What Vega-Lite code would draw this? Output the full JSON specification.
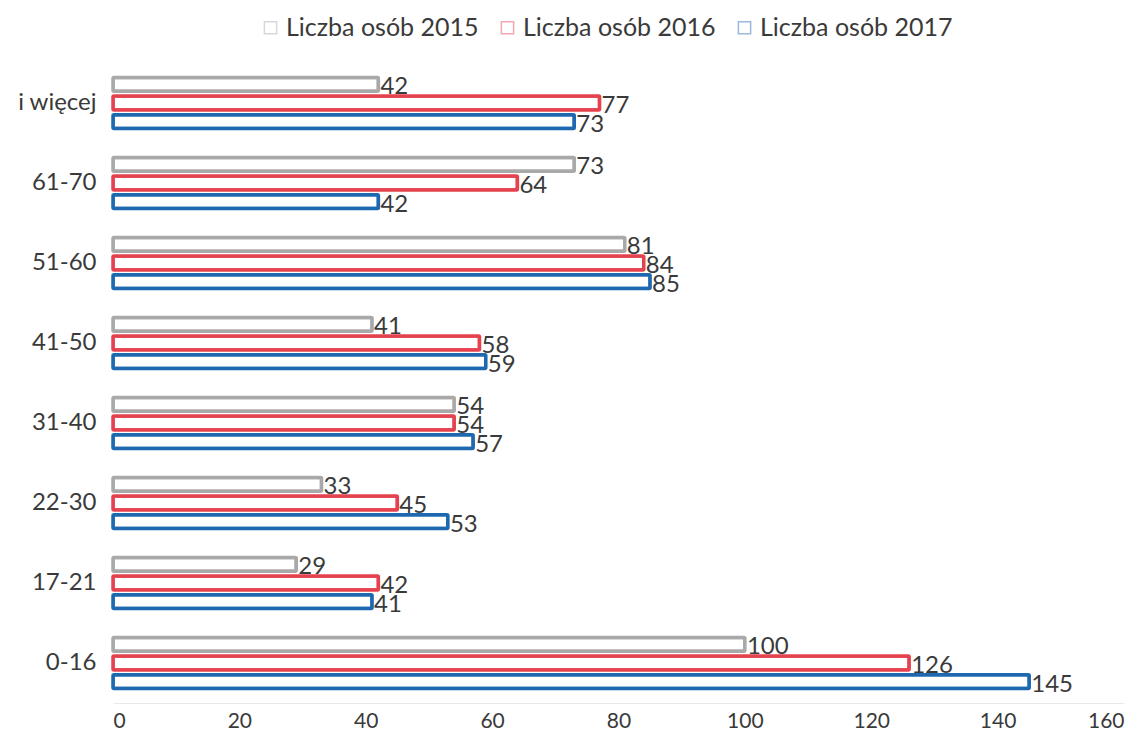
{
  "$schema": "https://vega.github.io/schema/vega-lite/v6.json",
  "autosize": {"type": "none"},
  "width": 1011,
  "height": 640,
  "padding": {"left": 113, "top": 63, "right": 19, "bottom": 35},
  "background": "white",
  "config": {"view": {"stroke": null}, "font": "Lato"},
  "data": {
    "values": [
      {"grupa": "i więcej", "seria": "Liczba osób 2015", "wartosc": 42},
      {"grupa": "i więcej", "seria": "Liczba osób 2016", "wartosc": 77},
      {"grupa": "i więcej", "seria": "Liczba osób 2017", "wartosc": 73},
      {"grupa": "61-70", "seria": "Liczba osób 2015", "wartosc": 73},
      {"grupa": "61-70", "seria": "Liczba osób 2016", "wartosc": 64},
      {"grupa": "61-70", "seria": "Liczba osób 2017", "wartosc": 42},
      {"grupa": "51-60", "seria": "Liczba osób 2015", "wartosc": 81},
      {"grupa": "51-60", "seria": "Liczba osób 2016", "wartosc": 84},
      {"grupa": "51-60", "seria": "Liczba osób 2017", "wartosc": 85},
      {"grupa": "41-50", "seria": "Liczba osób 2015", "wartosc": 41},
      {"grupa": "41-50", "seria": "Liczba osób 2016", "wartosc": 58},
      {"grupa": "41-50", "seria": "Liczba osób 2017", "wartosc": 59},
      {"grupa": "31-40", "seria": "Liczba osób 2015", "wartosc": 54},
      {"grupa": "31-40", "seria": "Liczba osób 2016", "wartosc": 54},
      {"grupa": "31-40", "seria": "Liczba osób 2017", "wartosc": 57},
      {"grupa": "22-30", "seria": "Liczba osób 2015", "wartosc": 33},
      {"grupa": "22-30", "seria": "Liczba osób 2016", "wartosc": 45},
      {"grupa": "22-30", "seria": "Liczba osób 2017", "wartosc": 53},
      {"grupa": "17-21", "seria": "Liczba osób 2015", "wartosc": 29},
      {"grupa": "17-21", "seria": "Liczba osób 2016", "wartosc": 42},
      {"grupa": "17-21", "seria": "Liczba osób 2017", "wartosc": 41},
      {"grupa": "0-16", "seria": "Liczba osób 2015", "wartosc": 100},
      {"grupa": "0-16", "seria": "Liczba osób 2016", "wartosc": 126},
      {"grupa": "0-16", "seria": "Liczba osób 2017", "wartosc": 145}
    ]
  },
  "encoding": {
    "y": {
      "field": "grupa", "type": "nominal",
      "sort": ["i więcej", "61-70", "51-60", "41-50", "31-40", "22-30", "17-21", "0-16"],
      "scale": {"paddingInner": 0.36, "paddingOuter": 0.18},
      "axis": {"title": null, "domain": false, "ticks": false, "labelFontSize": 24, "labelColor": "#3a3a3a", "labelPadding": 17}
    },
    "yOffset": {
      "field": "seria", "type": "nominal",
      "sort": ["Liczba osób 2015", "Liczba osób 2016", "Liczba osób 2017"],
      "scale": {"paddingInner": 0.25, "paddingOuter": 0}
    },
    "x": {
      "field": "wartosc", "type": "quantitative",
      "scale": {"domain": [0, 160], "nice": false},
      "axis": {"title": null, "values": [0, 20, 40, 60, 80, 100, 120, 140, 160], "grid": false, "ticks": false, "domain": true, "domainColor": "#e8e8e8", "labelFontSize": 21, "labelColor": "#3a3a3a", "labelPadding": 7, "offset": 0}
    }
  },
  "layer": [
    {
      "mark": {"type": "bar", "fill": "white", "strokeWidth": 3.5, "cornerRadius": 1},
      "encoding": {
        "stroke": {
          "field": "seria", "type": "nominal",
          "scale": {"domain": ["Liczba osób 2015", "Liczba osób 2016", "Liczba osób 2017"], "range": ["#a9a9a9", "#e5414f", "#1e68b0"]},
          "legend": {
            "orient": "none", "legendX": 145, "legendY": -48, "direction": "horizontal", "title": null,
            "symbolType": "square", "symbolSize": 150, "symbolStrokeWidth": 1.5, "symbolFillColor": "white",
            "symbolOpacity": 0.45,
            "labelFontSize": 25, "labelColor": "#3a3a3a", "labelLimit": 0, "columnPadding": 16, "labelOffset": 3
          }
        }
      }
    },
    {
      "mark": {"type": "text", "align": "left", "baseline": "middle", "dx": 2, "dy": 3, "fontSize": 24, "color": "#3a3a3a"},
      "encoding": {"text": {"field": "wartosc", "type": "quantitative"}}
    }
  ]
}
